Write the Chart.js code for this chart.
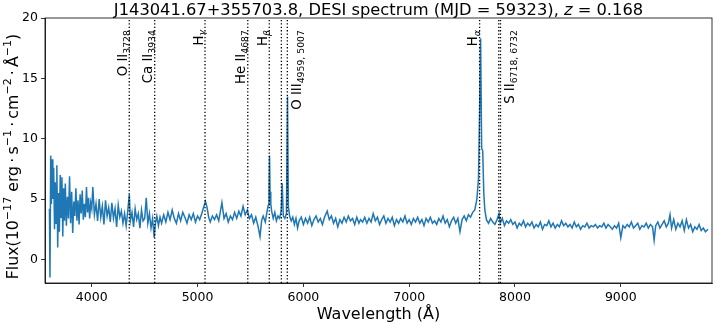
<!DOCTYPE html>
<html lang="en">
<head>
<meta charset="UTF-8">
<title>DESI spectrum J143041.67+355703.8</title>
<script src="https://cdn.jsdelivr.net/npm/chart.js"></script>
<style>
  body { margin: 0; background: #fff; }
  #wrap { width: 714px; height: 324px; position: relative; }
</style>
</head>
<body>
<div id="wrap"><canvas id="spec"></canvas></div>
<script>
// spectrum (Angstrom, 1e-17 erg/s/cm2/A)
const wavelength = [
  3600, 3605, 3612, 3618, 3625, 3632, 3640, 3648, 3655, 3662, 3670, 3678, 3686, 3694, 3702, 3710,
  3718, 3726, 3734, 3742, 3750, 3760, 3770, 3780, 3790, 3800, 3810, 3820, 3830, 3840, 3850, 3860,
  3870, 3880, 3890, 3900, 3910, 3920, 3930, 3940, 3950, 3960, 3970, 3980, 3990, 4000, 4010, 4025,
  4040, 4055, 4070, 4085, 4100, 4115, 4130, 4145, 4160, 4175, 4190, 4205, 4220, 4235, 4250, 4265,
  4280, 4295, 4310, 4325, 4340, 4355, 4365, 4380, 4395, 4410, 4425, 4440, 4455, 4470, 4485, 4500,
  4515, 4530, 4545, 4560, 4575, 4590, 4600, 4615, 4630, 4645, 4660, 4680, 4700, 4720, 4740, 4760,
  4780, 4800, 4820, 4840, 4860, 4880, 4900, 4920, 4940, 4960, 4980, 5000, 5020, 5040, 5060, 5075,
  5090, 5105, 5120, 5140, 5160, 5180, 5200, 5230, 5250, 5270, 5290, 5310, 5330, 5350, 5370, 5390,
  5410, 5430, 5450, 5470, 5490, 5510, 5530, 5550, 5570, 5590, 5605, 5620, 5640, 5655, 5668, 5675,
  5680, 5685, 5692, 5700, 5715, 5730, 5745, 5760, 5775, 5790, 5800, 5810, 5825, 5840, 5850, 5858,
  5870, 5885, 5900, 5915, 5930, 5945, 5960, 5980, 6000, 6020, 6040, 6060, 6080, 6100, 6120, 6140,
  6160, 6180, 6200, 6225, 6245, 6265, 6285, 6305, 6325, 6345, 6365, 6385, 6405, 6425, 6445, 6465,
  6485, 6505, 6525, 6540, 6560, 6580, 6600, 6620, 6640, 6660, 6680, 6700, 6720, 6740, 6760, 6780,
  6800, 6820, 6840, 6860, 6880, 6900, 6920, 6940, 6960, 6980, 7000, 7020, 7040, 7060, 7080, 7100,
  7120, 7140, 7160, 7180, 7200, 7220, 7240, 7260, 7280, 7300, 7320, 7340, 7360, 7380, 7400, 7420,
  7440, 7460, 7480, 7500, 7520, 7540, 7560, 7580, 7600, 7620, 7640, 7655, 7665, 7675, 7685, 7695,
  7705, 7715, 7730, 7750, 7770, 7790, 7810, 7830, 7850, 7860, 7880, 7900, 7920, 7940, 7960, 7980,
  8000, 8020, 8040, 8060, 8080, 8100, 8120, 8140, 8160, 8180, 8200, 8220, 8240, 8260, 8280, 8300,
  8320, 8340, 8360, 8380, 8400, 8420, 8440, 8460, 8480, 8500, 8520, 8540, 8560, 8580, 8600, 8620,
  8640, 8660, 8680, 8700, 8720, 8740, 8760, 8780, 8800, 8820, 8840, 8860, 8880, 8900, 8920, 8940,
  8960, 8980, 9000, 9020, 9040, 9060, 9080, 9100, 9120, 9140, 9160, 9180, 9200, 9220, 9240, 9260,
  9280, 9300, 9315, 9330, 9350, 9370, 9390, 9410, 9430, 9450, 9465, 9480, 9500, 9520, 9540, 9560,
  9580, 9600, 9620, 9640, 9660, 9680, 9700, 9720, 9740, 9760, 9780, 9800, 9824
];
const flux = [
  4.2, -1.5, 8.6, 4.6, 8.3, 5.0, 7.6, 2.5, 6.4, 3.0, 7.8, 1.0, 5.5, 2.3, 7.0, 3.5,
  6.8, 1.9, 5.9, 3.2, 6.3, 2.8, 5.2, 3.4, 6.9, 3.0, 5.6, 2.2, 4.8, 3.6, 5.9, 3.2,
  4.9, 2.9, 5.4, 3.8, 5.7, 3.3, 4.6, 3.5, 6.0, 3.9, 5.1, 3.4, 4.7, 4.2, 6.0, 3.7,
  4.6, 3.2, 5.0, 3.5, 4.4, 2.9, 4.9, 3.6, 4.3, 3.1, 4.7, 3.4, 4.2, 2.7, 4.5, 3.5,
  4.0, 3.0, 3.8, 2.8, 4.0, 5.4, 3.2, 3.9, 2.7, 4.2, 3.3, 3.8, 2.6, 4.1, 3.2, 3.4,
  5.1, 3.0, 3.8, 2.6, 3.4, 1.8, 2.9, 3.6, 2.8, 3.5, 3.0, 3.7, 3.1, 3.9, 3.3, 4.1,
  3.4, 3.0, 3.8, 3.2, 3.9, 3.5, 3.0, 3.7, 3.3, 3.8, 3.1, 3.6, 3.3, 3.8, 4.4, 4.8,
  4.3, 3.5, 3.1, 3.6, 3.3, 3.7, 3.2, 4.7, 3.4, 3.8, 3.1, 3.6, 3.3, 3.9, 3.4, 4.0,
  3.6, 4.4, 3.7, 4.1, 3.4, 3.7, 3.0, 3.5, 2.8, 1.9, 3.2, 3.6, 3.1, 3.9, 4.5, 5.5,
  8.6, 5.6, 4.6, 4.0, 3.4, 3.9, 3.2, 3.6, 3.4, 4.0, 6.3, 3.6, 3.4, 3.8, 13.5, 4.4,
  3.6, 3.2, 3.5, 2.9, 3.4, 2.6, 3.2, 3.5, 2.9, 3.4, 3.0, 3.5, 2.8, 3.3, 3.6, 3.1,
  3.4, 2.9, 3.5, 4.0, 3.3, 3.6, 3.0, 3.4, 2.7, 3.3, 3.0, 3.5, 3.1, 3.6, 3.2, 3.4,
  2.9, 3.5, 3.0, 3.3, 3.1, 3.5, 3.0, 3.4, 3.1, 3.8, 3.2, 3.5, 2.9, 3.3, 3.6, 3.0,
  3.4, 3.1, 3.5, 2.8, 3.3, 3.0, 3.4, 3.1, 3.6, 3.0, 3.3, 2.9, 3.4, 3.1, 3.5, 3.0,
  3.3, 2.8, 3.4, 3.1, 3.5, 3.0, 3.2, 2.9, 3.4, 3.1, 3.6, 3.0, 3.3, 2.7, 3.2, 3.5,
  3.0, 3.4, 2.3, 3.3, 3.6, 3.2, 3.7, 3.5, 3.9, 4.1, 5.0, 6.7, 12.0, 18.3, 9.2, 9.0,
  5.5, 4.1, 3.3, 3.0, 3.4, 3.1, 2.9, 3.3, 3.8, 3.0, 3.4, 2.8, 3.2, 3.0, 3.3, 2.9,
  3.1, 2.6, 3.0, 2.8, 3.2, 2.7, 3.0, 2.8, 3.1, 2.6, 2.9, 2.7, 3.1, 2.5, 2.9, 2.8,
  3.2, 2.7, 3.0, 2.6, 2.9, 2.7, 3.2, 2.8, 3.0, 2.7, 2.9, 2.6, 3.1, 2.7, 2.9, 2.5,
  2.8, 2.7, 3.0, 2.6, 2.8, 2.7, 2.9, 2.6, 2.8, 2.7, 3.0, 2.6, 2.9, 2.7, 2.5, 2.8,
  2.6, 3.0, 1.8, 2.8, 2.6, 2.9, 2.7, 3.1, 2.6, 2.8, 3.0, 2.5, 2.8, 2.7, 3.0, 2.6,
  2.9, 2.7, 1.6, 2.8, 3.1, 2.6, 2.9, 3.2, 2.7, 3.0, 3.7, 2.6, 3.3, 2.5, 3.0, 2.7,
  3.2, 2.4, 3.3, 2.6, 2.9, 2.3, 2.7, 2.5, 2.9, 2.4, 2.6, 2.3, 2.5
];

// emission lines (rest wavelengths) and labels
const redshift = 0.168;
const lineNames = ['O II', 'Ca II', 'H', 'He II', 'H', 'O III', 'H', 'S II'];
const lineSubs = ['3728', '3934', 'γ', '4687', 'β', '4959, 5007', 'α', '6718, 6732'];
const lineRest = [[3728], [3934], [4341], [4687], [4861], [4959, 5007], [6563], [6718, 6732]];
const lineSide = ['left', 'left', 'left', 'left', 'left', 'right', 'left', 'right'];
const labelFlux = 19;

const xTicks = [4000, 5000, 6000, 7000, 8000, 9000];
const yTicks = [0, 5, 10, 15, 20];

const FONT = "'DejaVu Sans', sans-serif";

// draw text runs with sub/superscripts along the current x direction
function runWidth(ctx, runs, size) {
  let w = 0;
  runs.forEach(r => {
    const s = r.mode === 'n' ? size : size * 0.7;
    ctx.font = (r.it ? 'italic ' : '') + s + 'px ' + FONT;
    w += ctx.measureText(r.t).width;
  });
  return w;
}
function drawRuns(ctx, runs, x, y, size) {
  runs.forEach(r => {
    const s = r.mode === 'n' ? size : size * 0.7;
    let dy = 0;
    if (r.mode === 'sub') dy = size * 0.22;
    if (r.mode === 'sup') dy = -size * 0.42;
    ctx.font = (r.it ? 'italic ' : '') + s + 'px ' + FONT;
    ctx.fillText(r.t, x, y + dy);
    x += ctx.measureText(r.t).width;
  });
}

const overlay = {
  id: 'overlay',
  afterDatasetsDraw(chart) {
    const { ctx, chartArea: a, scales } = chart;
    ctx.save();
    ctx.beginPath();
    ctx.rect(a.left, a.top, a.right - a.left, a.bottom - a.top);
    ctx.clip();
    ctx.strokeStyle = '#000';
    ctx.lineWidth = 1.3;
    ctx.setLineDash([1.3, 2.1]);
    lineRest.forEach(group => {
      group.forEach(w => {
        const px = scales.x.getPixelForValue(w * (1 + redshift));
        ctx.beginPath();
        ctx.moveTo(px, a.bottom);
        ctx.lineTo(px, a.top);
        ctx.stroke();
      });
    });
    ctx.restore();

    // labels, rotated, reading bottom to top
    ctx.save();
    ctx.fillStyle = '#000';
    ctx.textBaseline = 'alphabetic';
    const yTop = scales.y.getPixelForValue(labelFlux);
    lineNames.forEach((name, i) => {
      const group = lineRest[i];
      const greek = /[αβγ]/.test(lineSubs[i]);
      const runs = [{ t: name, mode: 'n' }, { t: lineSubs[i], mode: 'sub', it: greek }];
      const w = runWidth(ctx, runs, 13.3);
      let px, bx;
      if (lineSide[i] === 'left') {
        px = scales.x.getPixelForValue(group[0] * (1 + redshift));
        bx = px - 2.5;
      } else {
        px = scales.x.getPixelForValue(group[group.length - 1] * (1 + redshift));
        bx = px + 13.5;
      }
      ctx.save();
      ctx.translate(bx, yTop);
      ctx.rotate(-Math.PI / 2);
      drawRuns(ctx, runs, -w, 0, 13.3);
      ctx.restore();
    });
    ctx.restore();
  },
  afterDraw(chart) {
    const { ctx, chartArea: a } = chart;
    ctx.save();
    ctx.strokeStyle = '#000';
    ctx.lineWidth = 0.8;
    ctx.strokeRect(a.left, a.top, a.right - a.left, a.bottom - a.top);

    ctx.fillStyle = '#000';
    ctx.textBaseline = 'alphabetic';
    const cx = (a.left + a.right) / 2;
    // title
    const title = [
      { t: 'J143041.67+355703.8, DESI spectrum (MJD = 59323), ', mode: 'n' },
      { t: 'z', mode: 'n', it: true },
      { t: ' = 0.168', mode: 'n' }
    ];
    let w = runWidth(ctx, title, 16.3);
    drawRuns(ctx, title, cx - w / 2, 14.5, 16.3);

    // x axis title
    const xt = [{ t: 'Wavelength (Å)', mode: 'n' }];
    w = runWidth(ctx, xt, 16);
    drawRuns(ctx, xt, cx - w / 2, 318.5, 16);

    // y axis title
    const yt = [
      { t: 'Flux(10', mode: 'n' }, { t: '−17', mode: 'sup' },
      { t: ' erg\u2009·\u2009s', mode: 'n' }, { t: '−1', mode: 'sup' },
      { t: '\u2009·\u2009cm', mode: 'n' }, { t: '−2', mode: 'sup' },
      { t: '\u2009·\u2009Å', mode: 'n' }, { t: '−1', mode: 'sup' },
      { t: ')', mode: 'n' }
    ];
    w = runWidth(ctx, yt, 15.8);
    const cy = (a.top + a.bottom) / 2 + 6;
    ctx.translate(17.5, cy);
    ctx.rotate(-Math.PI / 2);
    drawRuns(ctx, yt, -w / 2, 0, 15.8);
    ctx.restore();
  }
};

const points = wavelength.map((w, i) => ({ x: w, y: flux[i] }));

const axisGrid = { drawOnChartArea: false, drawTicks: true, tickLength: 4, color: '#000', lineWidth: 0.8 };
const axisBorder = { display: true, color: '#000', width: 0.8 };
const tickFont = { family: FONT, size: 12.5 };

new Chart(document.getElementById('spec'), {
  type: 'line',
  data: {
    datasets: [{
      data: points,
      borderColor: '#1f77b4',
      borderWidth: 1.5,
      pointRadius: 0,
      tension: 0,
      fill: false
    }]
  },
  options: {
    responsive: true,
    maintainAspectRatio: false,
    animation: false,
    layout: { padding: { top: 18, right: 2, left: 0, bottom: 0 } },
    plugins: {
      legend: { display: false },
      tooltip: { enabled: false },
      title: { display: false }
    },
    scales: {
      x: {
        type: 'linear',
        min: 3558,
        max: 9862,
        afterFit: s => { s.height = 41; },
        afterBuildTicks: s => { s.ticks = xTicks.map(v => ({ value: v })); },
        grid: axisGrid,
        border: axisBorder,
        ticks: { color: '#000', font: tickFont, padding: 3, maxRotation: 0, autoSkip: false, callback: v => String(v) }
      },
      y: {
        type: 'linear',
        min: -1.95,
        max: 20,
        afterFit: s => { s.width = 45; },
        afterBuildTicks: s => { s.ticks = yTicks.map(v => ({ value: v })); },
        grid: axisGrid,
        border: axisBorder,
        ticks: { color: '#000', font: tickFont, padding: 3, autoSkip: false, callback: v => String(v) }
      }
    }
  },
  plugins: [overlay]
});
</script>
</body>
</html>
